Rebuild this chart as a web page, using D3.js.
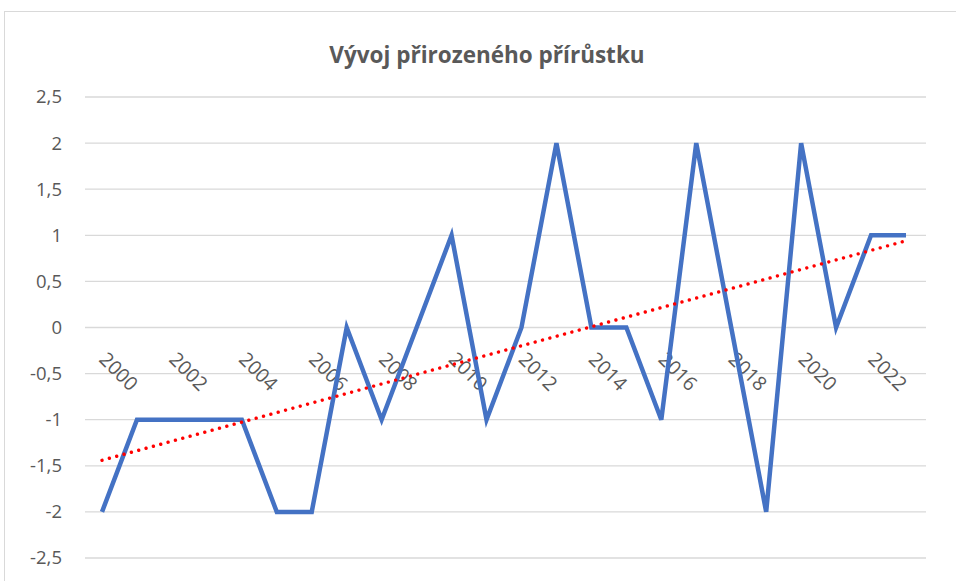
<!DOCTYPE html>
<html lang="cs">
<head>
<meta charset="UTF-8" />
<title>Vývoj přirozeného přírůstku</title>
<script src="https://cdn.jsdelivr.net/npm/d3@7"></script>
<style>
  body { margin: 0; background: #fff; }
  svg { display: block; font-family: "Open Sans", sans-serif; }
</style>
</head>
<body>
<svg id="chart" width="956" height="581"></svg>
<script>
  // data
  const years = d3.range(2000, 2024);
  const values = [-2, -1, -1, -1, -1, -2, -2, 0, -1, 0, 1, -1, 0, 2, 0, 0, -1, 2, 0, -2, 2, 0, 1, 1];
  const yTicks = [-2.5, -2, -1.5, -1, -0.5, 0, 0.5, 1, 1.5, 2, 2.5];
  const xLabels = years.filter(y => y % 2 === 0);
  const title = "Vývoj přirozeného přírůstku";

  const svg = d3.select('#chart');

  // chart area frame (runs off the right and bottom like the screenshot)
  svg.append('rect')
    .attr('x', 4.5).attr('y', 11.5)
    .attr('width', 1000).attr('height', 1000)
    .attr('fill', '#fff').attr('stroke', '#d9d9d9');

  const x = d3.scaleLinear().domain([2000, 2023]).range([102, 906]);
  const y = d3.scaleLinear().domain([-2.5, 2.5]).range([558, 97]);

  // gridlines
  svg.append('g')
    .selectAll('line')
    .data(yTicks)
    .join('line')
    .attr('x1', 85).attr('x2', 926)
    .attr('y1', d => y(d)).attr('y2', d => y(d))
    .attr('stroke', '#d9d9d9').attr('stroke-width', 1.3);

  // y labels, decimal comma
  const fmt = d => String(d).replace('.', ',');
  svg.append('g')
    .selectAll('text')
    .data(yTicks)
    .join('text')
    .attr('x', 62).attr('y', d => y(d))
    .attr('dy', '0.35em')
    .attr('text-anchor', 'end')
    .attr('fill', '#595959')
    .attr('font-size', 18.5)
    .text(fmt);

  // x labels, rotated, hanging under the zero line
  svg.append('g')
    .selectAll('text')
    .data(xLabels)
    .join('text')
    .attr('transform', d => `translate(${x(d) - 4}, ${y(0) + 33}) rotate(45)`)
    .attr('fill', '#595959')
    .attr('font-size', 19.5)
    .text(d => d);

  // series line
  const line = d3.line()
    .x((d, i) => x(years[i]))
    .y(d => y(d));

  svg.append('path')
    .datum(values)
    .attr('d', line)
    .attr('fill', 'none')
    .attr('stroke', '#4472c4')
    .attr('stroke-width', 4.5);

  // linear trend (least squares)
  const mx = d3.mean(years), my = d3.mean(values);
  const slope = d3.sum(years, (yr, i) => (yr - mx) * (values[i] - my)) / d3.sum(years, yr => (yr - mx) ** 2);
  const trend = [years[0], years[years.length - 1]].map(yr => [yr, my + slope * (yr - mx)]);

  svg.append('path')
    .datum(trend)
    .attr('d', d3.line().x(d => x(d[0])).y(d => y(d[1])))
    .attr('fill', 'none')
    .attr('stroke', '#ff0000')
    .attr('stroke-width', 3.4)
    .attr('stroke-linecap', 'round')
    .attr('stroke-dasharray', '0.01 7.6');

  // title
  svg.append('text')
    .attr('x', 487).attr('y', 63)
    .attr('text-anchor', 'middle')
    .attr('font-weight', 'bold')
    .attr('font-size', 22.5)
    .attr('fill', '#595959')
    .text(title);
</script>
</body>
</html>
